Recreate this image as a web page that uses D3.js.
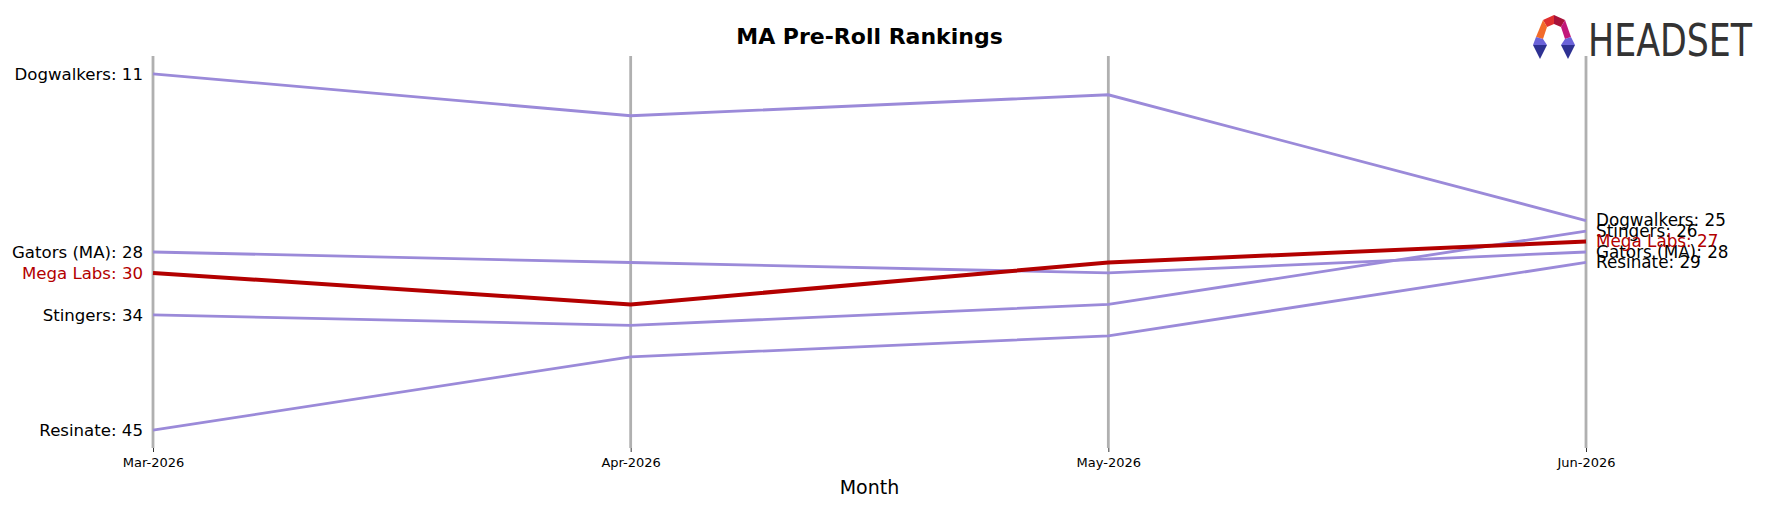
<!DOCTYPE html>
<html>
<head>
<meta charset="utf-8">
<script src="https://cdn.jsdelivr.net/npm/d3@7"></script>
<style>
  body { margin: 0; background: #fff; }
  text { font-family: "DejaVu Sans", sans-serif; }
</style>
</head>
<body>
<div id="graph"></div>
<script>
// chart data
var months = ["Mar-2026", "Apr-2026", "May-2026", "Jun-2026"];
var brands = ["Dogwalkers", "Gators (MA)", "Mega Labs", "Stingers", "Resinate"];
var dogwalkers = [11, 15, 13, 25];
var gators = [28, 29, 30, 28];
var megaLabs = [30, 33, 29, 27];
var stingers = [34, 35, 33, 26];
var resinate = [45, 38, 36, 29];
var highlight = "Mega Labs";

window.onload = start;

function start() {
    var W = 1769, H = 507;
    var margin = { top: 56, right: 183, bottom: 59, left: 153 },
        width = W - margin.left - margin.right,
        height = H - margin.top - margin.bottom;

    var series = [dogwalkers, gators, megaLabs, stingers, resinate].map(function (v, i) {
        return { name: brands[i], values: v };
    });

    var svg = d3.select("#graph").append("svg")
        .attr("width", W).attr("height", H);
    var g = svg.append("g")
        .attr("transform", "translate(" + margin.left + "," + margin.top + ")");

    var xScale = d3.scalePoint().domain(months).range([0, width]);
    var yScale = d3.scaleLinear().domain([9.3, 46.7]).range([0, height]);

    // vertical month lines
    g.selectAll(".vline").data(months).enter().append("line")
        .attr("x1", function (d) { return xScale(d); })
        .attr("x2", function (d) { return xScale(d); })
        .attr("y1", 0).attr("y2", height)
        .attr("stroke", "#b0b0b0").attr("stroke-width", 2.8);

    // x axis
    var xAxis = d3.axisBottom(xScale).tickSize(4).tickPadding(6);
    var xg = g.append("g")
        .attr("class", "xaxis")
        .attr("transform", "translate(0," + height + ")")
        .call(xAxis);
    xg.select(".domain").remove();
    xg.selectAll("text").style("font-size", "13px").attr("fill", "#000")
        .style("font-family", "DejaVu Sans, sans-serif");
    xg.selectAll("line").attr("stroke", "#000").attr("stroke-width", 0.8);

    var line = d3.line()
        .x(function (d, i) { return xScale(months[i]); })
        .y(function (d) { return yScale(d); });

    // others first, highlighted brand on top
    var order = series.filter(function (s) { return s.name != highlight; })
        .concat(series.filter(function (s) { return s.name == highlight; }));

    g.selectAll(".brand").data(order).enter().append("path")
        .attr("d", function (d) { return line(d.values); })
        .attr("fill", "none")
        .attr("stroke", function (d) { return d.name == highlight ? "#b30000" : "#9b8ad9"; })
        .attr("stroke-width", function (d) { return d.name == highlight ? 4 : 2.8; });

    // left labels
    g.selectAll(".lab-l").data(series).enter().append("text")
        .attr("x", -10)
        .attr("y", function (d) { return yScale(d.values[0]); })
        .attr("dy", "0.35em")
        .attr("text-anchor", "end")
        .style("font-size", "16.6px")
        .attr("fill", function (d) { return d.name == highlight ? "#b30000" : "#000"; })
        .text(function (d) { return d.name + ": " + d.values[0]; });

    // right labels
    var last = months.length - 1;
    g.selectAll(".lab-r").data(order).enter().append("text")
        .attr("x", width + 10)
        .attr("y", function (d) { return yScale(d.values[last]); })
        .attr("dy", "0.35em")
        .style("font-size", "16.8px")
        .attr("fill", function (d) { return d.name == highlight ? "#b30000" : "#000"; })
        .text(function (d) { return d.name + ": " + d.values[last]; });

    // title + x label
    svg.append("text")
        .attr("x", margin.left + width / 2).attr("y", 44)
        .attr("text-anchor", "middle")
        .style("font-size", "22px").style("font-weight", "bold")
        .text("MA Pre-Roll Rankings");

    svg.append("text")
        .attr("x", margin.left + width / 2).attr("y", 494)
        .attr("text-anchor", "middle")
        .style("font-size", "19px")
        .text("Month");

    // headset logo (rough): hexagonal ring with two legs
    var logo = svg.append("g").attr("transform", "translate(1532,15)");
    var pieces = [
        ["M11,5 L22,0 L22,9 L15,12 Z", "#e0302f"],
        ["M22,0 L33,5 L29,12 L22,9 Z", "#a8123a"],
        ["M33,5 L39,22 L33,24 L29,12 Z", "#c2187a"],
        ["M11,5 L15,12 L11,24 L4,22 Z", "#f26b2a"],
        ["M4,22 L11,24 L15,30 L1,30 Z", "#6b63d9"],
        ["M1,30 L15,30 L8,44 Z", "#2e3192"],
        ["M39,22 L33,24 L29,30 L43,30 Z", "#6b63d9"],
        ["M43,30 L29,30 L36,44 Z", "#2e3192"]
    ];
    logo.selectAll("path").data(pieces).enter().append("path")
        .attr("d", function (d) { return d[0]; })
        .attr("fill", function (d) { return d[1]; });
    svg.append("text")
        .attr("x", 1588).attr("y", 56)
        .attr("textLength", 164).attr("lengthAdjust", "spacingAndGlyphs")
        .style("font-family", "Liberation Sans Narrow, DejaVu Sans Condensed, sans-serif")
        .style("font-size", "44px")
        .attr("fill", "#333")
        .text("HEADSET");
}
</script>
</body>
</html>
